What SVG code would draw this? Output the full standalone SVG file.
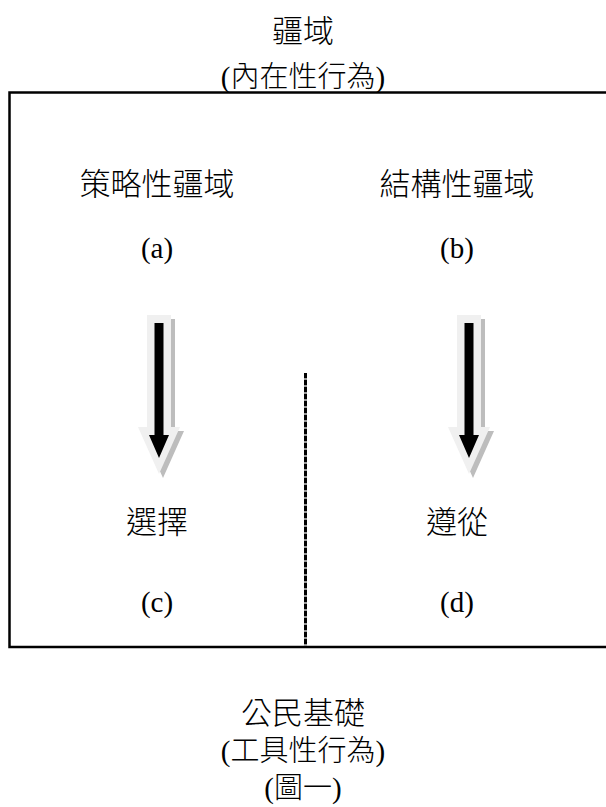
<svg xmlns="http://www.w3.org/2000/svg" width="606" height="807" viewBox="0 0 606 807">
<style>
text{font-family:"Liberation Serif","Noto Sans CJK TC",serif;font-size:29px;font-weight:300;fill:#000;text-anchor:middle;}
.cjk{font-size:31px;}
.sh{fill:#bdbdbd;}
.out{fill:#f0f0f0;}
.in{fill:#000;}
</style>
<defs>
<g id="arrow">
<polygon class="sh" points="-8,4 16,4 16,116 25,116 4,163 -17,116 -8,116"/>
<polygon class="out" points="-12,0 12,0 12,112 21,112 0,159 -21,112 -12,112"/>
<polygon class="in" points="-4.5,8 4.5,8 4.5,120 10,120 0,143 -10,120 -4.5,120"/>
</g>
</defs>
<rect x="0" y="0" width="606" height="807" fill="#fff"/>
<g id="frame">
<rect x="9.5" y="92.5" width="600" height="554.5" fill="none" stroke="#000" stroke-width="2.5"/>
</g>
<g id="connectors">
<line x1="305.5" y1="373" x2="305.5" y2="646" stroke="#999" stroke-width="3"/>
<line x1="305.5" y1="373" x2="305.5" y2="646" stroke="#000" stroke-width="3" stroke-dasharray="5 2"/>
<use href="#arrow" x="159" y="315"/>
<use href="#arrow" x="469" y="315"/>
</g>
<g id="top-title"><text class="cjk" x="303" y="42">疆域</text><text x="303" y="87">(內在性行為)</text></g>
<g id="node-a"><text class="cjk" x="157" y="195">策略性疆域</text><text x="157" y="258">(a)</text></g>
<g id="node-b"><text class="cjk" x="457" y="195">結構性疆域</text><text x="457" y="258">(b)</text></g>
<g id="node-c"><text class="cjk" x="157" y="533">選擇</text><text x="157" y="612">(c)</text></g>
<g id="node-d"><text class="cjk" x="457" y="533">遵從</text><text x="457" y="612">(d)</text></g>
<g id="bottom-title"><text class="cjk" x="303" y="724">公民基礎</text><text x="303" y="761">(工具性行為)</text><text x="303" y="798">(圖一)</text></g>
</svg>
